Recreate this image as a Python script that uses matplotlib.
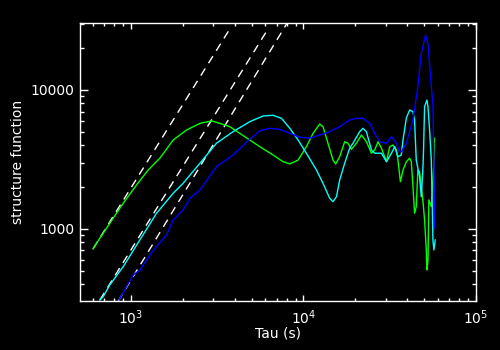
import matplotlib
matplotlib.use('Agg')
import matplotlib.pyplot as plt
from matplotlib.ticker import LogLocator, FixedLocator, NullFormatter, FixedFormatter

# structure function curves (tau in s, S(tau))
tau_green = [603, 632, 755, 902, 1079, 1259, 1471, 1758, 2102, 2512, 2933, 3273, 3741,
             4276, 4886, 5585, 6668, 7620, 8337, 9311, 10400, 11370, 12420, 12980, 13870,
             14830, 15380, 16220, 17340, 18120, 18970, 20280, 21680, 23170, 24770, 25880,
             27050, 28320, 30270, 31620, 33040, 34540, 35300, 36460, 37750, 39490, 41250,
             42180, 43070, 44040, 45060, 46030, 47100, 48170, 49200, 50350, 51520, 51960,
             52680, 53330, 55080, 57020, 57540]
s_green = [718, 789, 1099, 1531, 2075, 2655, 3228, 4365, 5152, 5754, 5985, 5754, 5445,
           4875, 4365, 3909, 3404, 3048, 2936, 3133, 3909, 4875, 5690, 5445, 4138,
           3133, 2936, 3311, 4246, 4138, 3741, 4138, 4742, 4246, 3508, 3700,
           4246, 3811, 3048, 3909, 4021, 3700, 3133, 2187, 2655, 3048, 3228,
           3048, 2075, 1297, 1447, 2655, 2583, 2014, 1618, 1161, 706, 507,
           598, 1618, 1447, 2972, 4500]

tau_cyan = [661, 691, 755, 902, 1127, 1408, 1758, 2009, 2512, 3133, 3909, 4886, 5834,
            6668, 7464, 8337, 9311, 10400, 11890, 12980, 14190, 14830, 15530, 16220,
            17340, 18530, 19370, 21180, 22130, 23170, 24770, 25880, 28320, 30270, 32370,
            33810, 35300, 36900, 37750, 39490, 41250, 43070, 44040, 45060, 47100, 48170,
            49200, 49660, 50350, 51960, 52680, 53830, 55080, 56270, 57020, 58070]
s_cyan = [308, 326, 396, 535, 834, 1297, 1807, 2133, 2972, 4138, 5012, 5916, 6502,
          6577, 6252, 5297, 4365, 3508, 2655, 2133, 1663, 1572, 1706, 2254,
          2972, 3811, 4138, 5012, 5297, 5012, 3700, 3508, 3508, 3048, 3508,
          3909, 3311, 3404, 4365, 6297, 7178, 6982, 6081, 3133, 2377, 1706,
          2655, 3700, 7586, 8472, 7586, 5152, 3133, 834, 706, 834]

tau_blue = [853, 1032, 1127, 1288, 1408, 1610, 1758, 2009, 2198, 2512, 3133, 3909, 4886,
            5585, 6383, 7295, 8337, 9528, 10870, 12420, 14190, 16220, 18530, 20280,
            22130, 24210, 25880, 27670, 30270, 32370, 34540, 36130, 37000, 39490, 43070,
            46030, 48170, 51050, 52680, 55080, 56270, 57020, 57540, 57550]
s_blue = [308, 467, 507, 650, 747, 906, 1161, 1371, 1663, 1908, 2806, 3404, 4419,
          5093, 5297, 5212, 4875, 4571, 4500, 4742, 5012, 5445, 6081, 6252,
          6252, 5754, 4875, 4246, 4138, 4613, 4138, 3597, 3597, 4138, 6081,
          10560, 18370, 24900, 21670, 10560, 8020, 3133, 1371, 1016]

# tau^2 reference lines (end points)
fit_tau = [[603, 3743], [661, 6124], [841, 8000]]
fit_s = [[718, 27500], [308, 26550], [300, 30000]]

plt.rcParams['font.family'] = 'DejaVu Sans'
fig = plt.figure(figsize=(5, 3.5), dpi=100, facecolor='black')
ax = fig.add_axes([0.16, 0.14, 0.792, 0.794], facecolor='black')

for t, s in zip(fit_tau, fit_s):
    ax.plot(t, s, color='white', lw=1.0, dashes=(6, 4.5))

ax.plot(tau_green, s_green, color='#00ff00', lw=1.0)
ax.plot(tau_cyan, s_cyan, color='#00ffff', lw=1.0)
ax.plot(tau_blue, s_blue, color='#0000ff', lw=1.0)

ax.set_xscale('log')
ax.set_yscale('log')
ax.set_xlim(507, 1e5)
ax.set_ylim(303, 30300)

ax.xaxis.set_major_locator(FixedLocator([1e3, 1e4, 1e5]))
ax.xaxis.set_major_formatter(FixedFormatter([r'$10^{3}$', r'$10^{4}$', r'$10^{5}$']))
ax.xaxis.set_minor_locator(LogLocator(base=10, subs=range(2, 10)))
ax.xaxis.set_minor_formatter(NullFormatter())
ax.yaxis.set_major_locator(FixedLocator([1000, 10000]))
ax.yaxis.set_major_formatter(FixedFormatter(['1000', '10000']))
ax.yaxis.set_minor_locator(LogLocator(base=10, subs=range(2, 10)))
ax.yaxis.set_minor_formatter(NullFormatter())

for sp in ax.spines.values():
    sp.set_color('white')
    sp.set_linewidth(1.0)
ax.tick_params(which='both', direction='in', colors='white', top=True, right=True,
               width=1.0, labelsize=10)
ax.tick_params(axis='x', which='major', length=4.5, pad=5)
ax.tick_params(axis='x', which='minor', length=2.5)
ax.tick_params(axis='y', which='major', length=6, pad=4)
ax.tick_params(axis='y', which='minor', length=3)

ax.set_xlabel('Tau (s)', color='white', fontsize=10, labelpad=0)
ax.set_ylabel('structure function', color='white', fontsize=10, labelpad=4)

fig.savefig('out.png', dpi=100, facecolor='black')
